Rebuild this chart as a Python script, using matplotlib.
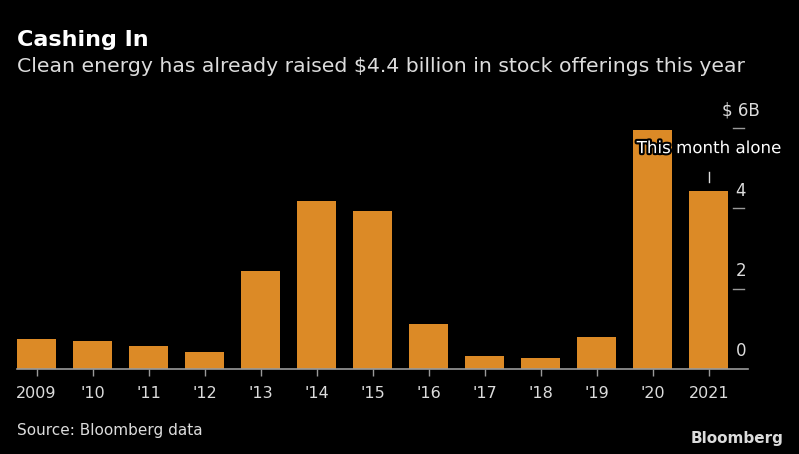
import matplotlib.pyplot as plt
import matplotlib.patheffects as pe

years = ["2009", "'10", "'11", "'12", "'13", "'14", "'15", "'16", "'17", "'18", "'19", "'20", "2021"]
raised = [0.75, 0.70, 0.57, 0.43, 2.44, 4.19, 3.93, 1.12, 0.32, 0.28, 0.80, 5.96, 4.42]
yticks = [0, 2, 4, 6]
ytick_labels = ["0", "2", "4", "$ 6B"]

BG = "black"
ORANGE = "#DC8A26"
TXT = "#dcdcdc"
AXC = "#9a9a9a"

fig = plt.figure(figsize=(7.99, 4.54), dpi=100, facecolor=BG)
W, H = 799, 454
# plot area: x 17..748, y (px from top) 120..369
ax = fig.add_axes([17 / W, 1 - 369 / H, (748 - 17) / W, (369 - 120) / H])
ax.set_facecolor(BG)

x = list(range(len(years)))
ax.bar(x, raised, width=0.7, color=ORANGE, zorder=2)
ax.set_xlim(-0.35, 12.7)
ax.set_ylim(0, 6.2)

for s in ["top", "right", "left"]:
    ax.spines[s].set_visible(False)
ax.spines["bottom"].set_color(AXC)
ax.spines["bottom"].set_linewidth(1.2)

ax.set_xticks(x)
ax.set_xticklabels(years)
ax.tick_params(axis="x", colors=AXC, length=5, width=1, labelcolor=TXT,
               labelsize=11.5, pad=7)
ax.set_yticks([])

# right-side value ticks: small dash with label above
for v, lab in zip(yticks, ytick_labels):
    if v > 0:
        ax.plot([12.44, 12.62], [v, v], color=AXC, lw=1, clip_on=False)
    ax.text(12.57, v + 0.22, lab, color=TXT, fontsize=12, ha="center",
            va="bottom", clip_on=False)

# annotation above last bar
ax.plot([12, 12], [4.65, 4.9], color=TXT, lw=1)
ax.text(12.0, 5.5, "This month alone", color="white", fontsize=12,
        ha="center", va="center",
        path_effects=[pe.withStroke(linewidth=3, foreground="black")])

fig.text(17 / W, 1 - 40 / H, "Cashing In", color="white", fontsize=16,
         fontweight="bold", ha="left", va="center")
fig.text(17 / W, 1 - 66 / H, "Clean energy has already raised $4.4 billion in stock offerings this year",
         color=TXT, fontsize=14.7, ha="left", va="center")
fig.text(17 / W, 1 - 431 / H, "Source: Bloomberg data", color=TXT, fontsize=11,
         ha="left", va="center")
fig.text(783 / W, 1 - 438 / H, "Bloomberg", color=TXT, fontsize=11,
         fontweight="bold", ha="right", va="center")

fig.savefig("out.png", dpi=100, facecolor=BG)
